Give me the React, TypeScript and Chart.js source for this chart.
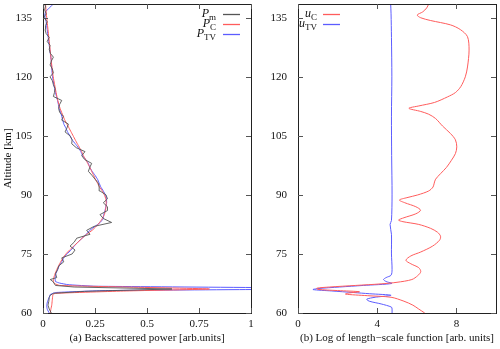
import React, { useEffect, useRef } from "react";
import { Chart, registerables } from "chart.js";
Chart.register(...registerables);

// ---------- Left panel: backscattered power ----------
const altM = [60,61,62,63,64,64.5,65,65.5,66.1,66.6,67,68,68.5,
  69,70,71,72,73,74,75,76,77,78,79,80,81,82,83,84,85,86,87,88,89,90,91,92,93,94,95,96,97,98,
  99,100,101,102,103,104,105,106,107,108,109,110,111,112,113,114,115,116,117,118,119,120,121,122,
  123,124,125,126,127,128,129,130,131,132,133,134,135,136,137,138,138.5];
const pM = [0.04,0.03,0.024,0.028,0.03,0.035,0.05,0.2,0.62,0.15,0.06,0.048,0.035,
  0.066,0.06,0.07,0.076,0.1,0.09,0.14,0.154,0.13,0.15,
  0.162,0.226,0.21,0.245,0.33,0.29,0.274,0.309,0.31,0.29,
  0.31,0.303,0.274,0.27,0.266,0.25,0.235,0.218,0.225,0.234,
  0.2,0.186,0.202,0.16,0.138,0.14,0.13,0.106,0.115,0.122,
  0.09,0.098,0.08,0.075,0.08,0.09,0.05,0.055,0.058,0.05,
  0.045,0.034,0.05,0.045,0.034,0.04,0.05,0.035,0.03,0.034,
  0.02,0.03,0.015,0.01,0.012,0.02,0.005,0.015,0.008,0.012,0.01];

const altC = [60,61,62,63,64,64.7,65.0,65.6,66.1,66.6,67.0,67.5,
  68,69,70,71,72,73,74,75,76,77,78,79,80,81,82,83,84,85,86,87,88,89,90,91,92,93,94,95,96,97,98,99,100,
  101,102,103,104,105,106,107,108,109,110,
  112,114,116,118,120,122,124,126,128,130,132,134,136,138.5];
const pC = [0.035,0.038,0.042,0.044,0.046,0.048,0.06,0.4,0.8,0.4,0.08,0.055,
  0.05,0.052,0.058,0.066,0.075,0.085,0.096,0.11,0.128,0.148,0.168,0.188,0.21,0.236,0.256,0.272,0.285,
  0.295,0.3,0.303,0.304,0.302,0.295,0.285,0.272,0.262,0.252,0.243,0.234,0.225,0.215,0.205,0.194,
  0.186,0.176,0.165,0.155,0.145,0.135,0.125,0.115,0.105,0.097,
  0.082,0.071,0.063,0.056,0.049,0.044,0.04,0.036,0.032,0.028,0.024,0.02,0.016,0.012];

const altTV = [60,61,62,63,64,64.7,65.2,65.7,66.2,66.8,67.2,67.6,68,
  69,70,71,72,73,74,75,76,77,78,79,80,81,82,83,84,85,86,87,88,89,90,91,92,93,94,95,96,97,98,99,100,
  101,102,103,104,105,106,107,108,109,110,
  112,114,116,118,120,122,124,126,128,130,132,134,135.5,136.5,137.5,138.5];
const pTV = [0.03,0.02,0.018,0.022,0.03,0.035,0.06,0.3,1.6,0.25,0.12,0.08,0.06,
  0.058,0.062,0.07,0.078,0.09,0.1,0.115,0.135,0.15,0.168,
  0.188,0.208,0.225,0.25,0.275,0.29,0.292,0.298,0.302,0.306,
  0.305,0.3,0.29,0.278,0.27,0.262,0.25,0.236,0.225,0.218,
  0.205,0.19,0.182,0.17,0.155,0.14,0.13,0.118,0.11,0.1,0.095,0.09,
  0.078,0.07,0.06,0.052,0.046,0.042,0.04,0.035,0.03,0.025,0.02,0.015,0.008,0.012,0.03,0.05];

// ---------- Right panel: log of length-scale function ----------
const altUC = [60,61,62,63,64,64.4,64.8,65.1,65.4,65.7,66.0,66.3,66.6,67.0,67.4,67.8,68.5,69.5,70.5,71.5,
  72.5,73.4,74.5,75.5,77,78.5,79.5,80.5,81.5,82.5,83.2,83.6,84.2,85.2,86.1,87,88,88.7,89.3,90,
  91,92,93,94,95.4,97,98.8,100.5,102.2,104,105.6,107.5,109.4,110.5,111.2,112,112.6,113.5,114.9,116,
  117.5,120,122.5,126.8,130.2,132,133.2,134.3,135,135.7,136.5,137.5,138.5];
const uC = [6.4,6.1,5.8,5.35,4.7,3.5,2.4,2.6,3.1,2.0,1.0,0.95,1.6,2.9,4.2,5.0,5.75,6.05,6.2,6.1,
  5.7,5.45,5.7,6.2,6.8,7.15,7.2,7.05,6.7,6.1,5.3,5.08,5.35,5.95,6.19,5.95,5.4,5.12,5.5,6.05,
  6.6,6.82,6.88,6.95,7.2,7.5,7.75,7.95,8.02,7.95,7.7,7.3,6.95,6.6,6.2,5.6,6.1,6.9,7.55,7.95,
  8.22,8.45,8.56,8.64,8.56,8.2,7.7,6.7,6.2,6.02,6.3,6.5,6.6];

const altUTV = [60,61,61.5,62.3,63,63.5,64,64.5,64.9,65.2,65.6,65.95,66.2,66.6,67.0,67.5,68.0,68.5,69.0,69.6,
  71,75,80,82.5,83.5,90,100,110,120,130,136,138.5];
const uTV = [4.75,4.75,4.72,4.2,3.6,3.47,3.9,4.7,3.6,2.8,1.7,0.76,1.0,2.1,3.3,4.74,4.45,4.32,4.45,4.7,
  4.75,4.72,4.72,4.65,4.72,4.75,4.73,4.72,4.74,4.72,4.7,4.68];

const altTicks = [60, 75, 90, 105, 120, 135];
const leftXTicks = [0, 0.25, 0.5, 0.75, 1];
const rightXTicks = [0, 4, 8];

const SERIF = '"Liberation Serif", "Times New Roman", serif';
const BLACK = "#555555";
const RED = "#ff5c5c";
const BLUE = "#5c5cff";

const pairs = (alt: number[], v: number[]) => alt.map((a, i) => ({ x: v[i], y: a }));

type LegendItem = { main: string; sub: string; color: string };

function framePlugin() {
  return {
    id: "frame",
    afterDatasetsDraw(chart: any) {
      const { ctx, chartArea } = chart;
      const { left, right, top, bottom } = chartArea;
      const xs = chart.scales.x;
      const ys = chart.scales.y;
      ctx.save();
      ctx.strokeStyle = "#222";
      ctx.lineWidth = 1;
      ctx.strokeRect(Math.round(left) + 0.5, Math.round(top) + 0.5, Math.round(right - left), Math.round(bottom - top));
      ctx.strokeStyle = "#555";
      const L = 5;
      xs.ticks.forEach((t: any) => {
        const px = Math.round(xs.getPixelForValue(t.value)) + 0.5;
        ctx.beginPath();
        ctx.moveTo(px, bottom);
        ctx.lineTo(px, bottom - L);
        ctx.moveTo(px, top);
        ctx.lineTo(px, top + L);
        ctx.stroke();
      });
      ys.ticks.forEach((t: any) => {
        const py = Math.round(ys.getPixelForValue(t.value)) + 0.5;
        ctx.beginPath();
        ctx.moveTo(left, py);
        ctx.lineTo(left + L, py);
        ctx.moveTo(right, py);
        ctx.lineTo(right - L, py);
        ctx.stroke();
      });
      ctx.restore();
    },
  };
}

function legendPlugin(items: LegendItem[], textEnd: number, lineStart: number, lineEnd: number, firstY: number, step: number) {
  return {
    id: "gnuLegend",
    afterDraw(chart: any) {
      const ctx = chart.ctx;
      ctx.save();
      items.forEach((it, i) => {
        const y = firstY + i * step;
        ctx.font = `9px ${SERIF}`;
        const sw = ctx.measureText(it.sub).width;
        ctx.font = `italic 12px ${SERIF}`;
        const mw = ctx.measureText(it.main).width;
        ctx.fillStyle = "#111";
        ctx.textBaseline = "alphabetic";
        ctx.textAlign = "left";
        ctx.fillText(it.main, textEnd - sw - mw, y + 2.5);
        ctx.font = `9px ${SERIF}`;
        ctx.fillText(it.sub, textEnd - sw, y + 5);
        ctx.strokeStyle = it.color;
        ctx.lineWidth = 1.3;
        ctx.beginPath();
        ctx.moveTo(lineStart, y);
        ctx.lineTo(lineEnd, y);
        ctx.stroke();
      });
      ctx.restore();
    },
  };
}

function makeOptions(xmin: number, xmax: number, xTicks: number[], xTitle: string, yTitle: string | null) {
  return {
    animation: false,
    responsive: false,
    maintainAspectRatio: false,
    layout: { padding: { top: 4, right: 4, left: 0, bottom: 0 } },
    plugins: { legend: { display: false }, tooltip: { enabled: false } },
    elements: { point: { radius: 0 } },
    scales: {
      x: {
        type: "linear",
        min: xmin,
        max: xmax,
        afterBuildTicks: (s: any) => { s.ticks = xTicks.map((v) => ({ value: v })); },
        afterFit: (s: any) => { s.height = 36; s.paddingLeft = 0; s.paddingRight = 0; },
        grid: { display: false, drawTicks: false },
        border: { display: false },
        ticks: { color: "#111", font: { family: SERIF, size: 11 }, padding: 5, maxRotation: 0, autoSkip: false, callback: (v: any) => String(v) },
        title: { display: true, text: xTitle, color: "#111", font: { family: SERIF, size: 11 }, padding: { top: 0, bottom: 4 } },
      },
      y: {
        type: "linear",
        min: 60,
        max: 138.5,
        afterBuildTicks: (s: any) => { s.ticks = altTicks.map((v) => ({ value: v })); },
        afterFit: (s: any) => { s.width = 43; s.paddingTop = 0; s.paddingBottom = 0; },
        grid: { display: false, drawTicks: false },
        border: { display: false },
        ticks: { color: "#111", font: { family: SERIF, size: 11 }, padding: 11, autoSkip: false, callback: (v: any) => String(v) },
        title: yTitle
          ? { display: true, text: yTitle, color: "#111", font: { family: SERIF, size: 11 }, padding: { top: 2, bottom: 0 } }
          : { display: false },
      },
    },
  };
}

export default function App() {
  const leftRef = useRef<HTMLCanvasElement>(null);
  const rightRef = useRef<HTMLCanvasElement>(null);

  useEffect(() => {
    const left = new Chart(leftRef.current as HTMLCanvasElement, {
      type: "scatter",
      data: {
        datasets: [
          { label: "P_m", data: pairs(altM, pM), showLine: true, borderColor: BLACK, borderWidth: 0.9, pointRadius: 0, tension: 0 },
          { label: "P_C", data: pairs(altC, pC), showLine: true, borderColor: RED, borderWidth: 1, pointRadius: 0, tension: 0.15 },
          { label: "P_TV", data: pairs(altTV, pTV), showLine: true, borderColor: BLUE, borderWidth: 1, pointRadius: 0, tension: 0.1 },
        ],
      },
      options: makeOptions(0, 1, leftXTicks, "(a) Backscattered power [arb.units]", "Altitude [km]") as any,
      plugins: [
        framePlugin(),
        legendPlugin(
          [
            { main: "P", sub: "m", color: BLACK },
            { main: "P", sub: "C", color: RED },
            { main: "P", sub: "TV", color: BLUE },
          ],
          216, 223, 240, 14.5, 10
        ),
      ],
    });
    const right = new Chart(rightRef.current as HTMLCanvasElement, {
      type: "scatter",
      data: {
        datasets: [
          { label: "u_C", data: pairs(altUC, uC), showLine: true, borderColor: RED, borderWidth: 1, pointRadius: 0, tension: 0.3 },
          { label: "u_TV", data: pairs(altUTV, uTV), showLine: true, borderColor: BLUE, borderWidth: 1, pointRadius: 0, tension: 0.3 },
        ],
      },
      options: makeOptions(0, 10, rightXTicks, "(b) Log of length\u2212scale function [arb. units]", null) as any,
      plugins: [
        framePlugin(),
        legendPlugin(
          [
            { main: "u", sub: "C", color: RED },
            { main: "u", sub: "TV", color: BLUE },
          ],
          62, 68, 85, 14.5, 10
        ),
      ],
    });
    return () => {
      left.destroy();
      right.destroy();
    };
  }, []);

  return (
    <div style={{ position: "fixed", left: 0, top: 0, width: 500, height: 349, background: "#fff", overflow: "hidden" }}>
      <canvas ref={leftRef} width={255} height={349} style={{ position: "absolute", left: 0, top: 0, width: 255, height: 349, display: "block" }} />
      <canvas ref={rightRef} width={245} height={349} style={{ position: "absolute", left: 255, top: 0, width: 245, height: 349, display: "block" }} />
    </div>
  );
}
